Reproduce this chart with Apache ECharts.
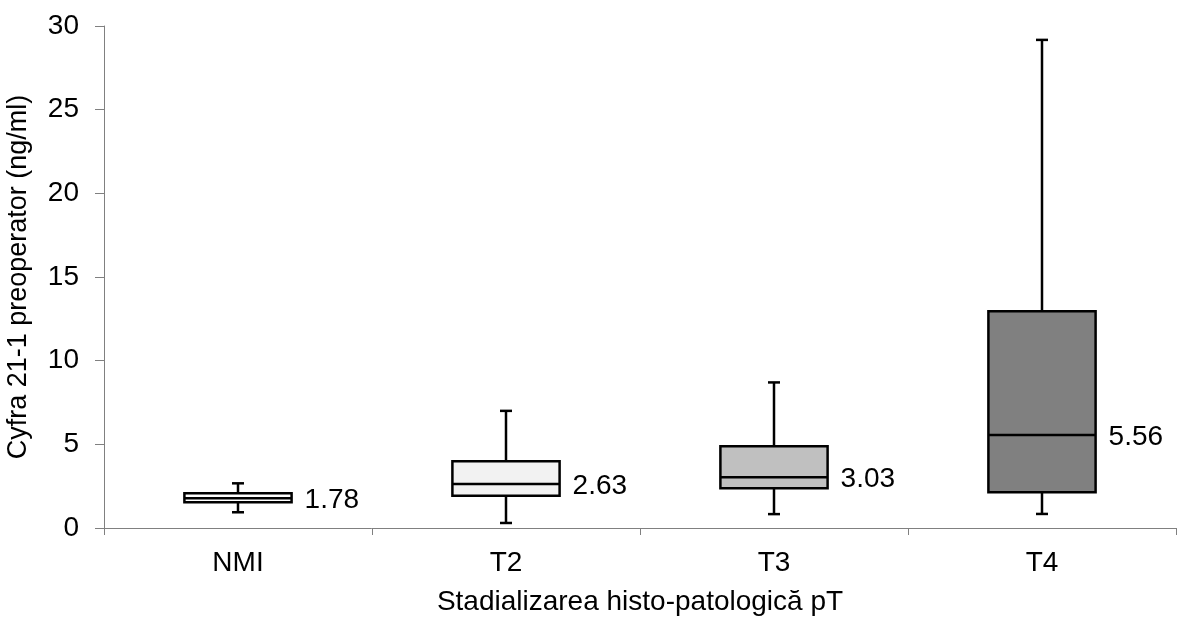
<!DOCTYPE html>
<html>
<head>
<meta charset="utf-8">
<script src="https://cdn.jsdelivr.net/npm/echarts@6/dist/echarts.min.js"></script>
<style>html,body{margin:0;padding:0;background:#fff}#c{width:1180px;height:619px}</style>
</head>
<body>
<div id="c"></div>
<script>
const categories = ['NMI', 'T2', 'T3', 'T4'];
const minVals = [0.94, 0.30, 0.83, 0.84];
const q1Vals = [1.54, 1.93, 2.37, 2.13];
const medians = [1.78, 2.63, 3.03, 5.56];
const q3Vals = [2.07, 3.99, 4.88, 12.95];
const maxVals = [2.67, 7.00, 8.70, 29.17];
const medianLabels = ['1.78', '2.63', '3.03', '5.56'];
const yTicks = [0, 5, 10, 15, 20, 25, 30];
const boxFills = ['#ffffff', '#f2f2f2', '#c0c0c0', '#808080'];

const FONT = '"Liberation Sans", Arial, sans-serif';
const data = categories.map((c, i) => [i, minVals[i], q1Vals[i], medians[i], q3Vals[i], maxVals[i]]);

const chart = echarts.init(document.getElementById('c'), null, {renderer: 'canvas'});
chart.setOption({
  backgroundColor: '#fff',
  animation: false,
  grid: {left: 104, right: 4, top: 26, bottom: 91, containLabel: false, outerBoundsMode: 'none'},
  xAxis: {
    type: 'category',
    data: categories,
    boundaryGap: true,
    name: 'Stadializarea histo-patologică pT',
    nameLocation: 'middle',
    nameGap: 60,
    nameTextStyle: {fontFamily: FONT, fontSize: 28, color: '#000'},
    axisLine: {lineStyle: {color: '#808080', width: 1}},
    axisTick: {show: true, length: 7, lineStyle: {color: '#808080'}},
    axisLabel: {fontFamily: FONT, fontSize: 28, color: '#000', margin: 21},
    splitLine: {show: false}
  },
  yAxis: {
    type: 'value',
    min: yTicks[0],
    max: yTicks[yTicks.length - 1],
    interval: 5,
    name: 'Cyfra 21-1 preoperator (ng/ml)',
    nameLocation: 'middle',
    nameGap: 72,
    nameTextStyle: {fontFamily: FONT, fontSize: 27, color: '#000'},
    axisLine: {show: true, lineStyle: {color: '#808080', width: 1}},
    axisTick: {show: true, length: 9, lineStyle: {color: '#808080'}},
    axisLabel: {fontFamily: FONT, fontSize: 28, color: '#000', margin: 25},
    splitLine: {show: false}
  },
  series: [{
    type: 'custom',
    data: data,
    encode: {x: 0, y: [1, 2, 3, 4, 5]},
    renderItem: function (params, api) {
      const i = api.value(0);
      const catW = api.size([1, 0])[0];
      const halfW = catW * 0.2;
      const cap = 6;
      const pMin = api.coord([i, api.value(1)]);
      const pQ1 = api.coord([i, api.value(2)]);
      const pMed = api.coord([i, api.value(3)]);
      const pQ3 = api.coord([i, api.value(4)]);
      const pMax = api.coord([i, api.value(5)]);
      const cx = pMed[0];
      const ls = {stroke: '#000', lineWidth: 2.5};
      return {
        type: 'group',
        children: [
          {type: 'line', shape: {x1: cx, y1: pQ3[1], x2: cx, y2: pMax[1]}, style: ls},
          {type: 'line', shape: {x1: cx, y1: pQ1[1], x2: cx, y2: pMin[1]}, style: ls},
          {type: 'line', shape: {x1: cx - cap, y1: pMax[1], x2: cx + cap, y2: pMax[1]}, style: ls},
          {type: 'line', shape: {x1: cx - cap, y1: pMin[1], x2: cx + cap, y2: pMin[1]}, style: ls},
          {type: 'rect', shape: {x: cx - halfW, y: pQ3[1], width: halfW * 2, height: pQ1[1] - pQ3[1]},
            style: {fill: boxFills[i], stroke: '#000', lineWidth: 2.5}},
          {type: 'line', shape: {x1: cx - halfW, y1: pMed[1], x2: cx + halfW, y2: pMed[1]}, style: ls},
          {type: 'text', x: cx + halfW + 13, y: pMed[1] + 2,
            style: {text: medianLabels[i], fill: '#000', font: '28px ' + FONT, textAlign: 'left', textVerticalAlign: 'middle'}}
        ]
      };
    }
  }]
});
</script>
</body>
</html>
